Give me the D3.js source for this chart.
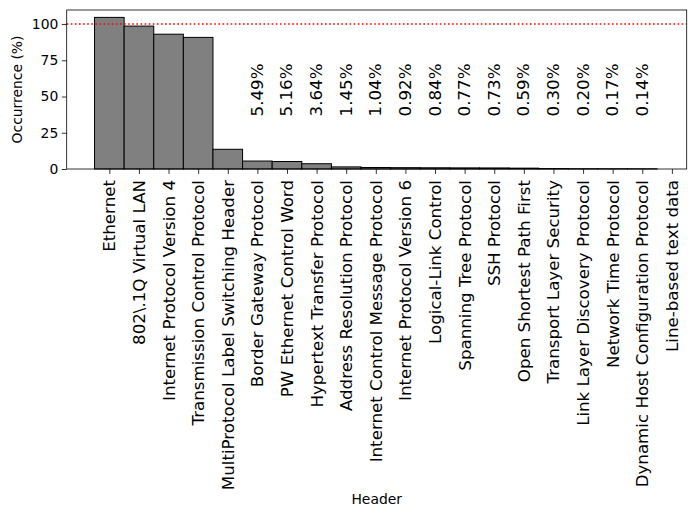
<!DOCTYPE html>
<html>
<head>
<meta charset="utf-8">
<script src="https://cdn.jsdelivr.net/npm/d3@7"></script>
<style>
  html, body { margin: 0; padding: 0; background: #fff; }
  svg { display: block; font-family: "DejaVu Sans", sans-serif; }
</style>
</head>
<body>
<svg id="chart" width="695" height="517"></svg>
<script>
const categories = [
  "Ethernet", "802\\.1Q Virtual LAN", "Internet Protocol Version 4",
  "Transmission Control Protocol", "MultiProtocol Label Switching Header",
  "Border Gateway Protocol", "PW Ethernet Control Word", "Hypertext Transfer Protocol",
  "Address Resolution Protocol", "Internet Control Message Protocol",
  "Internet Protocol Version 6", "Logical-Link Control", "Spanning Tree Protocol",
  "SSH Protocol", "Open Shortest Path First", "Transport Layer Security",
  "Link Layer Discovery Protocol", "Network Time Protocol",
  "Dynamic Host Configuration Protocol", "Line-based text data"
];
const occurrence = [
  104.6, 98.6, 93.0, 90.8, 13.6,
  5.49, 5.16, 3.64, 1.45, 1.04,
  0.92, 0.84, 0.77, 0.73, 0.59,
  0.30, 0.20, 0.17, 0.14, 0
];
const labelled = [
  false, false, false, false, false,
  true, true, true, true, true,
  true, true, true, true, true,
  true, true, true, true, false
];
const yTicks = [0, 25, 50, 75, 100];
const referenceLine = 100;
const labelLevel = 54.5;

const svg = d3.select("#chart");
const m = { left: 66.7, right: 686.7, top: 10, bottom: 169 };

const x = d3.scaleLinear().domain([-1.44, categories.length - 0.5]).range([m.left, m.right]);
const y = d3.scaleLinear().domain([0, 109.7]).range([m.bottom, m.top]);
const bw = x(1) - x(0);

// bars
svg.append("g").selectAll("rect")
  .data(occurrence.map((v, i) => ({ v, i })).filter(d => d.v > 0))
  .join("rect")
  .attr("x", d => x(d.i) - bw / 2)
  .attr("width", bw)
  .attr("y", d => y(d.v))
  .attr("height", d => y(0) - y(d.v))
  .attr("fill", "#808080")
  .attr("stroke", "#000")
  .attr("stroke-width", 1);

// reference line
svg.append("line")
  .attr("x1", m.left).attr("x2", m.right)
  .attr("y1", y(referenceLine)).attr("y2", y(referenceLine))
  .attr("stroke", "red").attr("stroke-width", 1.6)
  .attr("stroke-dasharray", "1.6,2.5");

// value labels
svg.append("g").selectAll("text")
  .data(occurrence.map((v, i) => ({ v, i })).filter(d => labelled[d.i]))
  .join("text")
  .attr("transform", d => `translate(${x(d.i)},${y(labelLevel)}) rotate(-90)`)
  .attr("text-anchor", "middle")
  .attr("dominant-baseline", "central")
  .attr("font-size", "16.67px")
  .text(d => d.v.toFixed(2) + "%");

// x axis
const xAxis = d3.axisBottom(x)
  .tickValues(d3.range(categories.length))
  .tickFormat(i => categories[i])
  .tickSize(4.9).tickPadding(4.5);
const gx = svg.append("g").attr("transform", `translate(0,${m.bottom})`).call(xAxis);
gx.select(".domain").remove();
gx.selectAll(".tick line").attr("stroke", "#000").attr("stroke-width", 0.8);
gx.selectAll(".tick text")
  .attr("font-size", "16.67px")
  .attr("font-family", "DejaVu Sans, sans-serif")
  .attr("fill", "#000")
  .attr("text-anchor", "end")
  .attr("dominant-baseline", "central")
  .attr("dy", null)
  .attr("transform", "rotate(-90)")
  .attr("x", -11)
  .attr("y", 0);

// y axis
const yAxis = d3.axisLeft(y).tickValues(yTicks).tickSize(4.9).tickPadding(3.5);
const gy = svg.append("g").attr("transform", `translate(${m.left},0)`).call(yAxis);
gy.select(".domain").remove();
gy.selectAll(".tick line").attr("stroke", "#000").attr("stroke-width", 0.8);
gy.selectAll(".tick text")
  .attr("font-size", "13.9px")
  .attr("font-family", "DejaVu Sans, sans-serif")
  .attr("fill", "#000");

// frame
svg.append("rect")
  .attr("x", m.left).attr("y", m.top)
  .attr("width", m.right - m.left).attr("height", m.bottom - m.top)
  .attr("fill", "none").attr("stroke", "#000").attr("stroke-width", 0.8);

// axis titles
svg.append("text")
  .attr("x", (m.left + m.right) / 2).attr("y", 504)
  .attr("text-anchor", "middle")
  .attr("font-size", "13.9px")
  .text("Header");
svg.append("text")
  .attr("transform", `translate(22,${(m.top + m.bottom) / 2}) rotate(-90)`)
  .attr("text-anchor", "middle")
  .attr("font-size", "13.9px")
  .text("Occurrence (%)");
</script>
</body>
</html>
